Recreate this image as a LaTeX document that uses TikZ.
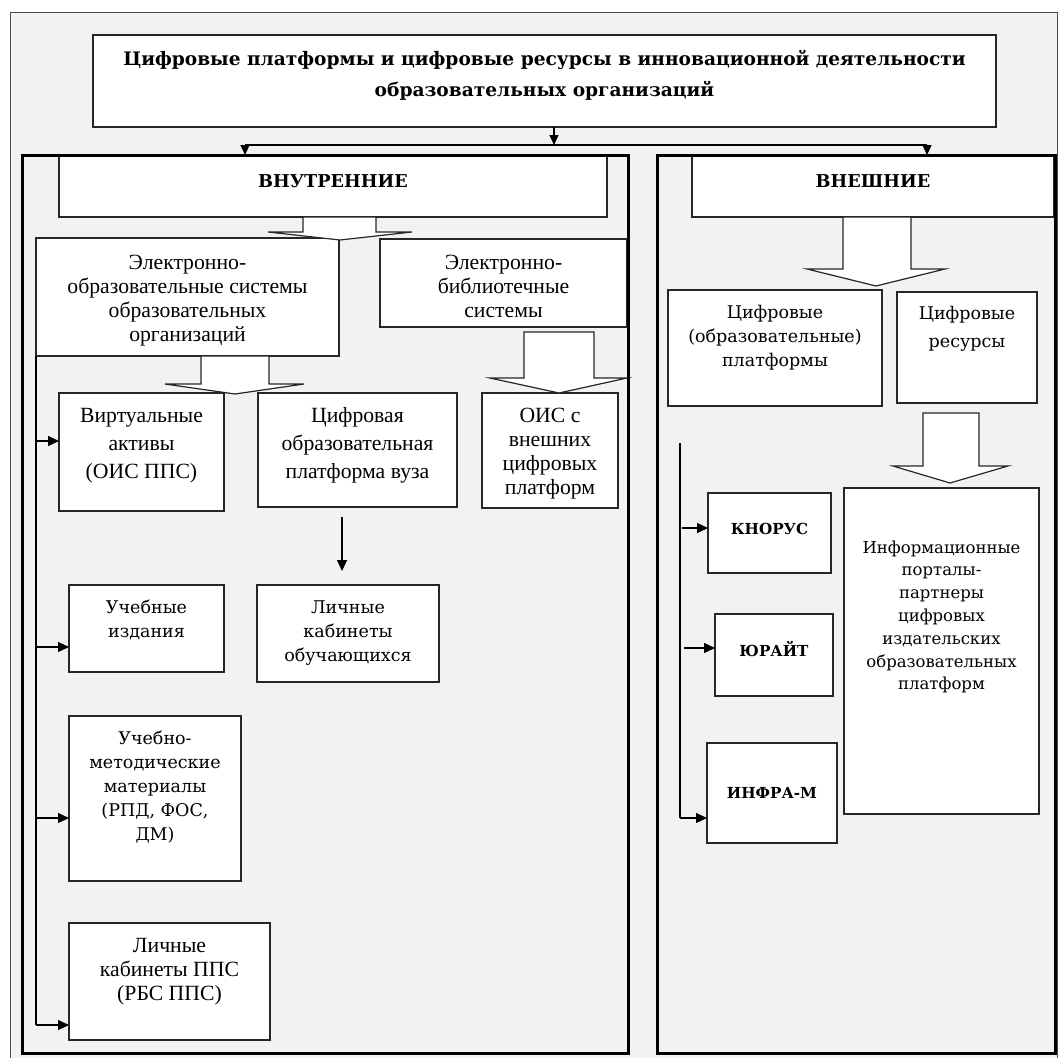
\documentclass[tikz,border=0pt]{standalone}
\usepackage{fontspec}
\setmainfont{Liberation Serif}
\newfontfamily\slabfont{DejaVu Serif}
\usetikzlibrary{arrows.meta,fit}
\definecolor{bggray}{HTML}{F2F2F2}
\definecolor{edge}{HTML}{262626}
\newcommand\mlines[1]{\begin{tabular}[t]{@{}c@{}}#1\end{tabular}}
\begin{document}
\begin{tikzpicture}[x=1pt,y=-1pt,
  box/.style={draw=edge, fill=white, line width=1.2pt, inner sep=0pt, outer sep=0pt},
  panel/.style={draw=black, fill=bggray, line width=3pt, inner sep=0pt, outer sep=0pt},
  ltxt/.style={font=\fontsize{21.7}{24}\selectfont, inner sep=0pt, anchor=base},
  ltxtw/.style={font=\fontsize{21.7}{28}\selectfont, inner sep=0pt, anchor=base},
  stxt/.style={font=\slabfont\fontsize{17.5}{24}\selectfont, inner sep=0pt, anchor=base},
  ttxt/.style={font=\slabfont\bfseries\fontsize{18.6}{31}\selectfont, inner sep=0pt, anchor=base},
  htxt/.style={font=\slabfont\bfseries\fontsize{17.7}{22}\selectfont, inner sep=0pt, anchor=base},
  ktxt/.style={font=\slabfont\bfseries\fontsize{15.2}{20}\selectfont, inner sep=0pt, anchor=base},
  conn/.style={draw=black, line width=1.2pt},
  arr/.style={conn, -{Triangle[length=11pt,width=10pt]}},
  sarr/.style={conn, -{Triangle[length=10pt,width=9pt]}},
  barrow/.style={draw=edge, fill=white, line width=1.2pt, line join=miter}
]
\useasboundingbox (0,0) rectangle (1059,1057);
\fill[white] (0,0) rectangle (1059,1057);
\filldraw[fill=bggray, draw=black!70, line width=1pt] (10,13) rectangle (1057,1075);

% title
\node[box, fit={(93,35) (996,127)}] (title) {};
\node[ttxt] (title-t) at (544.5,66) {\mlines{Цифровые платформы и цифровые ресурсы в инновационной деятельности\\образовательных организаций}};

% panels
\node[panel, fit={(22,155) (628,1053)}] (lp) {};
\node[panel, fit={(657,155) (1055,1053)}] (rp) {};

% distribution
\coordinate (split) at (554,145);
\coordinate (splitL) at (245,145);
\coordinate (splitR) at (927,145);
\draw[sarr] (title.south -| split) -- (split);
\draw[conn] (splitL) -- (splitR);
\draw[sarr] (splitL) -- (splitL |- lp.north);
\draw[sarr] (splitR) -- (splitR |- rp.north);

% left panel boxes
\node[box, fit={(59,155) (607,217)}] (vnutr) {};
\node[htxt] (vnutr-t) at (333,187) {ВНУТРЕННИЕ};
\node[box, fit={(36,238) (339,356)}] (eos) {};
\node[ltxt] (eos-t) at (187.5,269) {\mlines{Электронно-\\образовательные системы\\образовательных\\организаций}};
\node[box, fit={(380,239) (627,327)}] (ebs) {};
\node[ltxt] (ebs-t) at (503.5,269) {\mlines{Электронно-\\библиотечные\\системы}};
\node[box, fit={(59,393) (224,511)}] (virt) {};
\node[ltxtw] (virt-t) at (141.5,422) {\mlines{Виртуальные\\активы\\(ОИС ППС)}};
\node[box, fit={(258,393) (457,507)}] (cifr) {};
\node[ltxtw] (cifr-t) at (357.5,422) {\mlines{Цифровая\\образовательная\\платформа вуза}};
\node[box, fit={(482,393) (618,508)}] (ois) {};
\node[ltxt] (ois-t) at (550,422) {\mlines{ОИС с\\внешних\\цифровых\\платформ}};
\node[box, fit={(69,585) (224,672)}] (ucheb) {};
\node[stxt] (ucheb-t) at (146.5,613) {\mlines{Учебные\\издания}};
\node[box, fit={(257,585) (439,682)}] (lkob) {};
\node[stxt] (lkob-t) at (348,613) {\mlines{Личные\\кабинеты\\обучающихся}};
\node[box, fit={(69,716) (241,881)}] (umm) {};
\node[stxt] (umm-t) at (155,744) {\mlines{Учебно-\\методические\\материалы\\(РПД, ФОС,\\ДМ)}};
\node[box, fit={(69,923) (270,1040)}] (lkpps) {};
\node[ltxt] (lkpps-t) at (169.5,952) {\mlines{Личные\\кабинеты ППС\\(РБС ППС)}};

% right panel boxes
\node[box, fit={(692,155) (1054,217)}] (vnesh) {};
\node[htxt] (vnesh-t) at (873,187) {ВНЕШНИЕ};
\node[box, fit={(668,290) (882,406)}] (cplat) {};
\node[stxt] (cplat-t) at (775,318) {\mlines{Цифровые\\(образовательные)\\платформы}};
\node[box, fit={(897,292) (1037,403)}] (cres) {};
\node[stxt, font=\slabfont\fontsize{17.5}{28}\selectfont] (cres-t) at (967,319) {\mlines{Цифровые\\ресурсы}};
\node[box, fit={(708,493) (831,573)}] (knorus) {};
\node[ktxt] (knorus-t) at (769.5,534) {КНОРУС};
\node[box, fit={(715,614) (833,696)}] (urait) {};
\node[ktxt] (urait-t) at (774,656) {ЮРАЙТ};
\node[box, fit={(707,743) (837,843)}] (infra) {};
\node[ktxt] (infra-t) at (772,798) {ИНФРА-М};
\node[box, fit={(844,488) (1039,814)}] (info) {};
\node[stxt, font=\slabfont\fontsize{16.5}{22.8}\selectfont] (info-t) at (941.5,553) {\mlines{Информационные\\порталы-\\партнеры\\цифровых\\издательских\\образовательных\\платформ}};

% block arrows
\draw[barrow] (303,217) -- (303,232) -- (268,232) -- (340,240) -- (412,232) -- (376,232) -- (376,217) -- cycle;
\draw[barrow] (201,356) -- (201,384) -- (165,384) -- (235,394) -- (304,384) -- (269,384) -- (269,356) -- cycle;
\draw[barrow] (524,332) -- (524,378) -- (490,378) -- (559,393) -- (627,378) -- (594,378) -- (594,332) -- cycle;
\draw[barrow] (843,217) -- (843,269) -- (807,269) -- (876,286) -- (945,269) -- (911,269) -- (911,217) -- cycle;
\draw[barrow] (923,413) -- (923,466) -- (893,466) -- (950,483) -- (1008,466) -- (979,466) -- (979,413) -- cycle;

% left connectors
\coordinate (lvbot) at (36,1025);
\draw[conn] (eos.south west) -- (lvbot);
\coordinate (av) at (36,441);
\coordinate (au) at (36,647);
\coordinate (am) at (36,818);
\draw[arr] (av) -- (av -| virt.west);
\draw[arr] (au) -- (au -| ucheb.west);
\draw[arr] (am) -- (am -| umm.west);
\draw[arr] (lvbot) -- (lvbot -| lkpps.west);
\coordinate (cv) at (342,507);
\draw[arr, shorten <=10pt, shorten >=14pt] (cv) -- (cv |- lkob.north);

% right connectors
\coordinate (rvtop) at (680,443);
\coordinate (rvbot) at (680,818);
\draw[conn] (rvtop) -- (rvbot);
\coordinate (ak) at (682,528);
\coordinate (ay) at (684,648);
\draw[arr] (ak) -- (ak -| knorus.west);
\draw[arr] (ay) -- (ay -| urait.west);
\draw[arr] (rvbot) -- (rvbot -| infra.west);

% panel borders on top
\draw[black, line width=3pt] (lp.north west) rectangle (lp.south east);
\draw[black, line width=3pt] (rp.north west) rectangle (rp.south east);
\end{tikzpicture}
\end{document}
